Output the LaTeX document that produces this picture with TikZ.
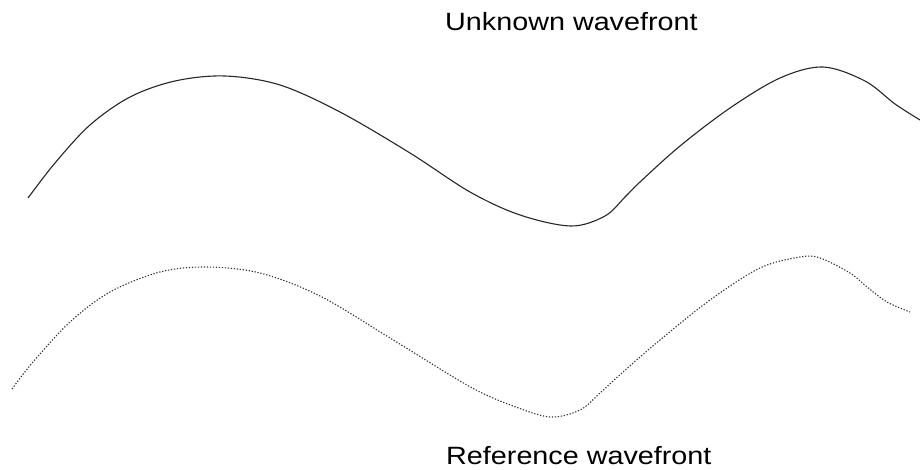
\documentclass[tikz,border=0pt]{standalone}
\usepackage{fontspec}
\setmainfont{Liberation Sans}
\begin{document}
\begin{tikzpicture}[x=1pt,y=-1pt,
  wave/.style={line width=1.1pt, black!85},
  refwave/.style={line width=1.1pt, black!80, dash pattern=on 1.3pt off 1.7pt},
  lbl/.style={font=\fontsize{25}{30}\selectfont, anchor=base west, inner sep=0pt}]
\useasboundingbox (0,0) rectangle (920,470);
\draw[wave] plot[smooth, tension=0.55] coordinates {
 (28,198) (55,163) (90,125) (130,97) (175,81) (225,76) (280,85) (340,112)
 (410,153) (470,192) (520,215) (571,226) (605,216) (625,197) (640,182)
 (680,146) (730,108) (780,78) (823,67) (865,81) (895,104) (920,120)};
\draw[refwave] plot[smooth, tension=0.55] coordinates {
 (12,389) (33,362) (70,322) (110,292) (160,272) (206,267) (260,273) (320,296)
 (390,338) (450,375) (480,392) (513,406) (550,417) (580,410) (600,393)
 (623,372) (660,340) (710,300) (760,268) (800,257) (820,258) (850,273)
 (867,287) (887,302) (910,312)};
\node[lbl] (unk) at (445,31) {\scalebox{1.15}[1]{Unknown wavefront}};
\node[lbl] (ref) at (446,464) {\scalebox{1.15}[1]{Reference wavefront}};
\end{tikzpicture}
\end{document}
